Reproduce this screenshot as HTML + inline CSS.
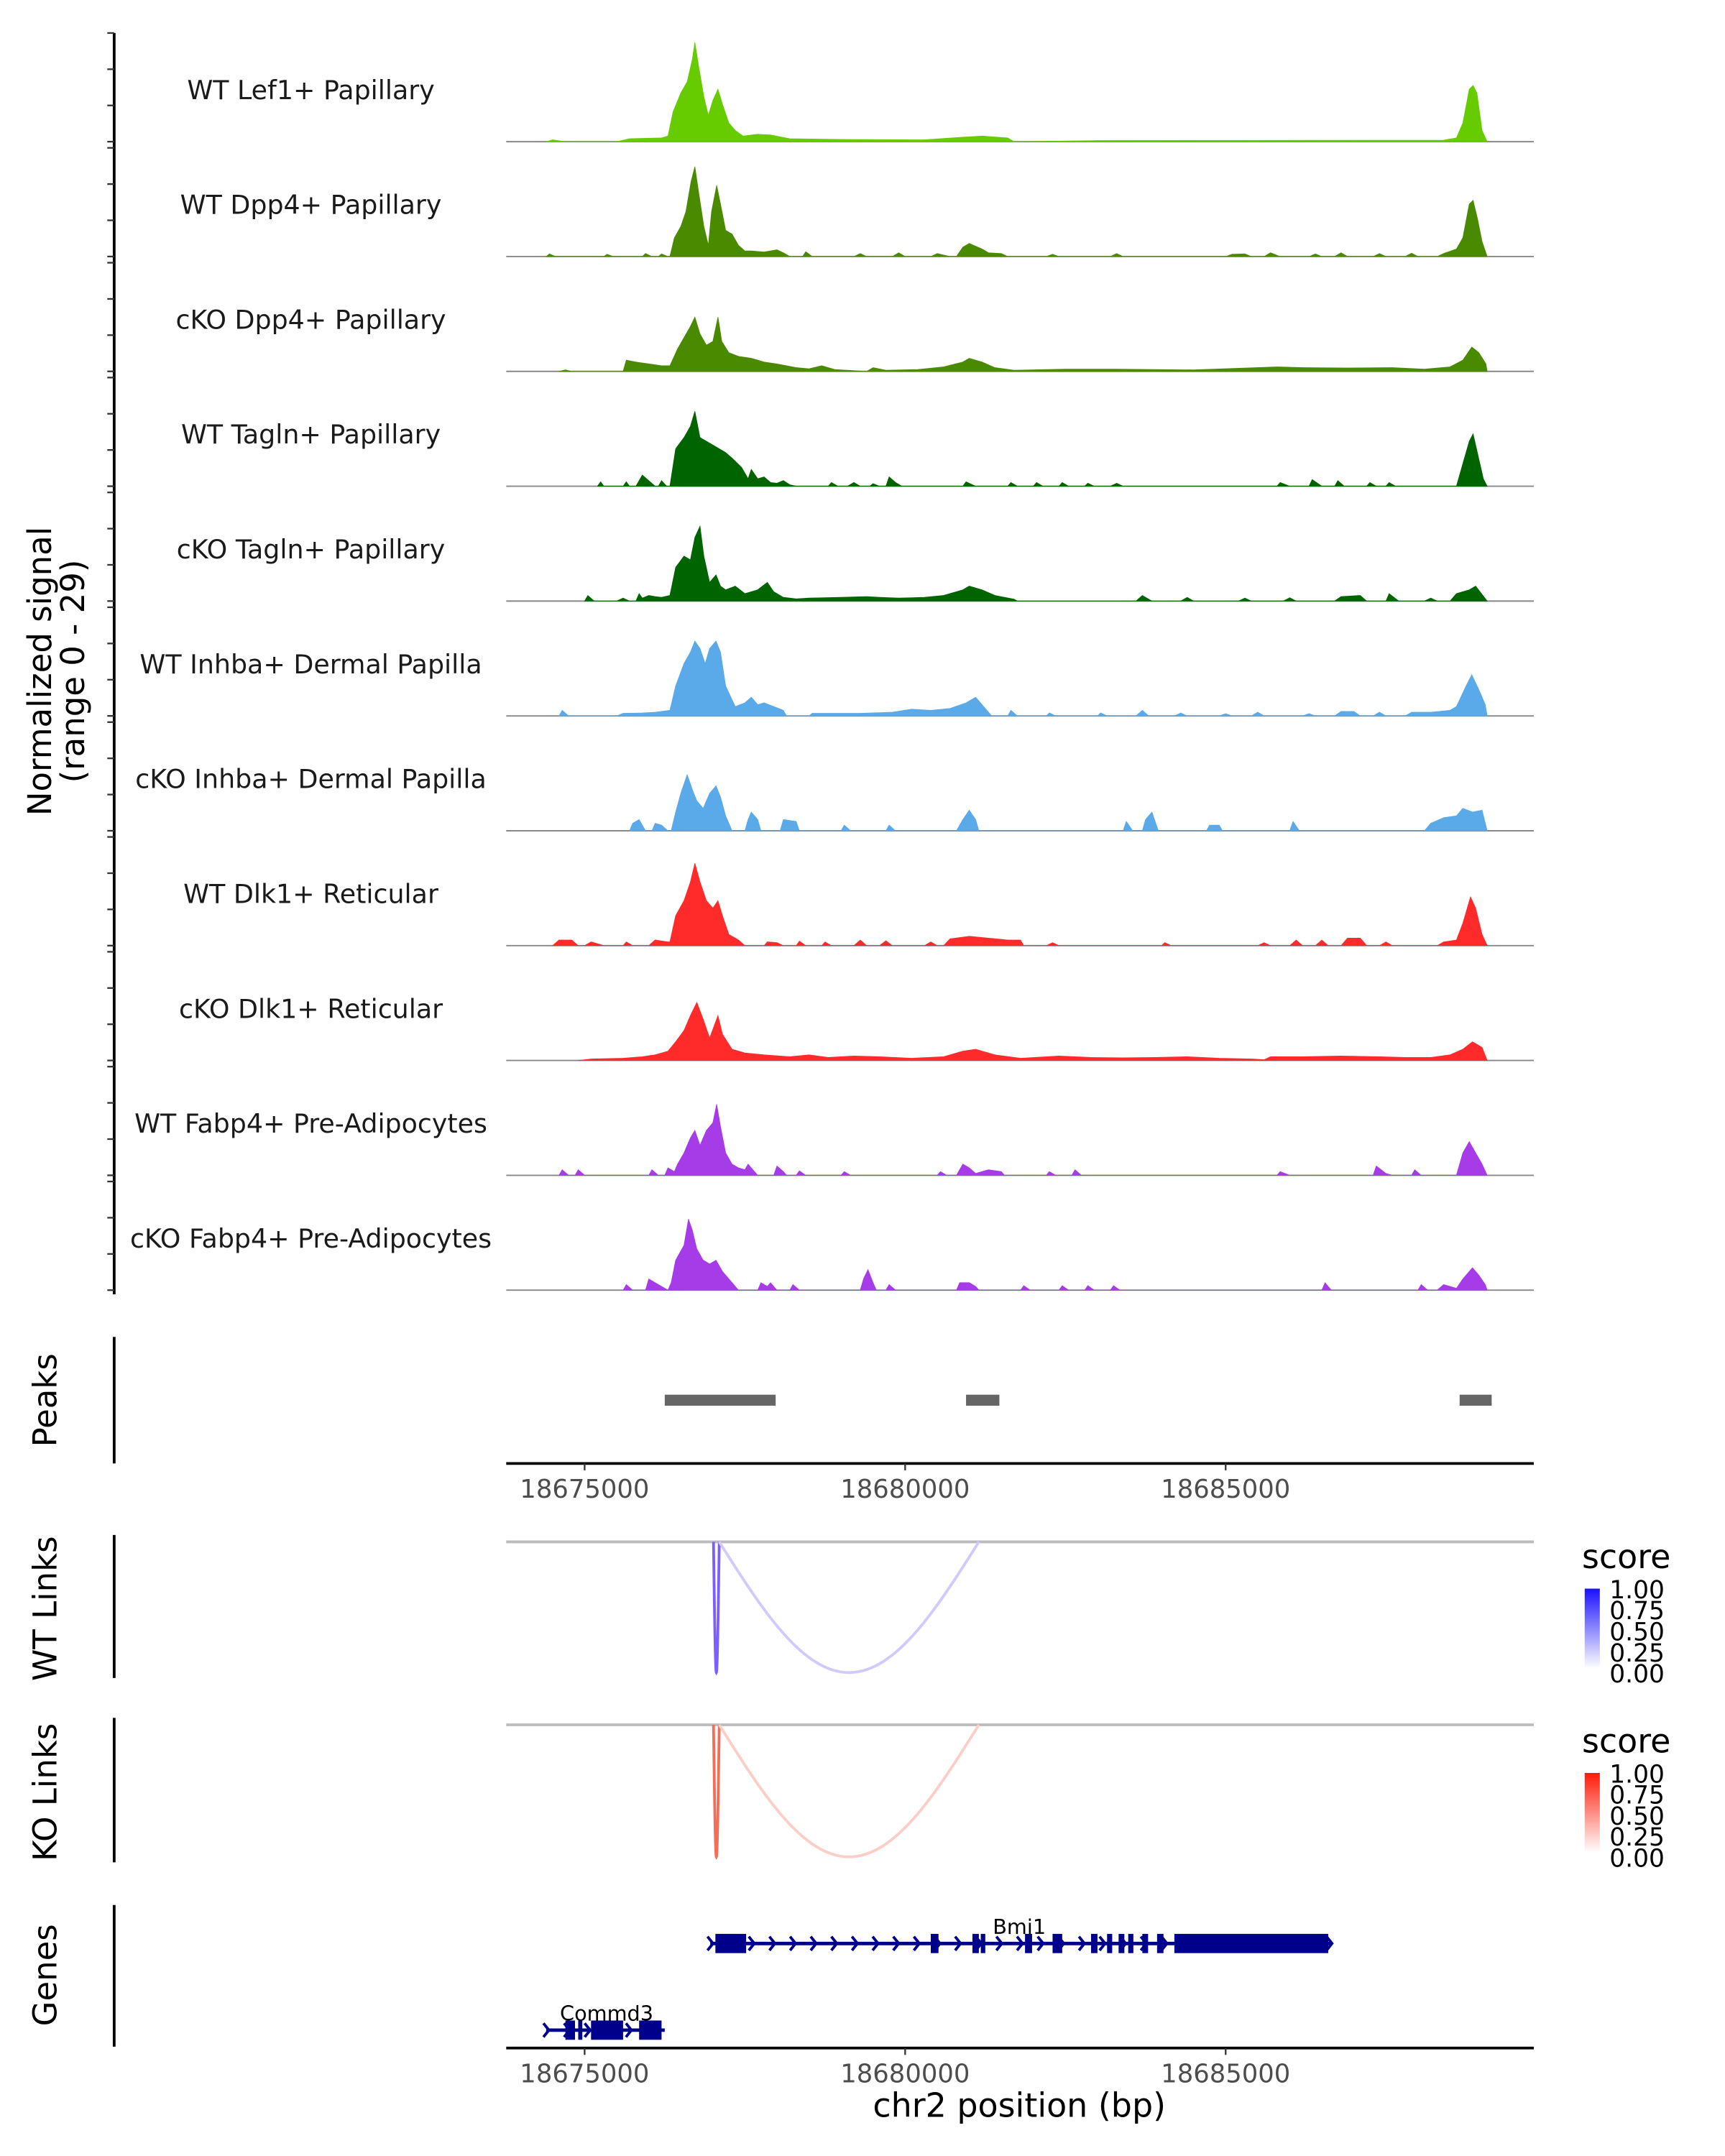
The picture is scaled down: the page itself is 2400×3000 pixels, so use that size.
<!DOCTYPE html>
<html><head><meta charset="utf-8"><style>
html,body{margin:0;padding:0;background:#fff}
svg{display:block}
text{font-family:"DejaVu Sans","Liberation Sans",sans-serif}
</style></head><body>
<svg id="chart" xmlns="http://www.w3.org/2000/svg" width="2400" height="3000" viewBox="0 0 1254 1567.5"></svg>
<script>
const trackNames=["WT Lef1+ Papillary","WT Dpp4+ Papillary","cKO Dpp4+ Papillary","WT Tagln+ Papillary","cKO Tagln+ Papillary","WT Inhba+ Dermal Papilla","cKO Inhba+ Dermal Papilla","WT Dlk1+ Reticular","cKO Dlk1+ Reticular","WT Fabp4+ Pre-Adipocytes","cKO Fabp4+ Pre-Adipocytes"];
const trackColors=["#66cc00","#4a8a00","#4a8a00","#006400","#006400","#5aa9e9","#5aa9e9","#ff2a2a","#ff2a2a","#a63be8","#a63be8"];
const yMax=29;
const xTicks=[18675000,18680000,18685000];
const sig0=[[4.4,0],[4.5,0.5],[4.7,0],[5.5,0],[5.7,0.8],[6.2,1],[6.3,1.5],[6.38,8],[6.5,13],[6.6,16],[6.68,22],[6.72,26.5],[6.78,20],[6.86,12],[6.93,7],[7.0,11],[7.08,14],[7.15,10],[7.25,5],[7.35,3],[7.47,1.5],[7.7,2],[7.9,1.8],[8.2,0.8],[9,0.6],[10.3,0.5],[10.9,1.2],[11.2,1.5],[11.6,1],[11.7,0],[13,0.3],[18.4,0.4],[18.6,1],[18.7,5],[18.8,14],[18.86,15],[18.92,13],[19.0,3],[19.08,0]];
const sig1=[[4.4,0],[4.45,0.7],[4.55,0],[5.3,0],[5.35,0.6],[5.45,0],[5.9,0],[5.95,0.8],[6.05,0],[6.15,0],[6.2,0.7],[6.3,0],[6.33,0],[6.4,5],[6.5,8],[6.58,12],[6.66,20],[6.72,24],[6.78,17],[6.86,8],[6.93,3],[6.98,12],[7.06,19],[7.12,14],[7.2,7],[7.3,6],[7.4,3],[7.5,1.5],[7.6,1.5],[7.8,1.2],[8.0,1.8],[8.1,1],[8.2,0],[8.4,0],[8.45,1.3],[8.55,0],[9.2,0],[9.3,0.8],[9.4,0],[9.8,0],[9.9,1],[10.0,0],[10.4,0],[10.5,0.8],[10.7,0],[10.8,0],[10.9,2.5],[11.0,3.5],[11.2,2],[11.3,1],[11.5,0.8],[11.6,0],[12.2,0],[12.3,0.6],[12.4,0],[13.2,0],[13.3,0.8],[13.4,0],[15.0,0],[15.1,0.6],[15.3,0.7],[15.4,0],[15.6,0],[15.7,1],[15.85,0],[16.3,0],[16.4,0.7],[16.5,0],[16.7,0],[16.8,1],[16.9,0],[17.3,0],[17.4,0.8],[17.5,0],[17.8,0],[17.9,0.9],[18.0,0],[18.3,0],[18.4,0.8],[18.6,2],[18.7,5],[18.8,14],[18.86,15],[18.93,10],[19.0,4],[19.08,0]];
const sig2=[[4.6,0],[4.7,0.4],[4.8,0],[5.6,0],[5.65,3],[5.8,2.5],[6.0,2],[6.2,1.5],[6.33,1.5],[6.45,6],[6.55,9],[6.65,12],[6.72,14.5],[6.8,10],[6.9,7],[7.0,8],[7.08,14.5],[7.14,8],[7.25,5],[7.4,4],[7.6,3.5],[7.8,2.5],[8.0,2],[8.3,1],[8.5,0.7],[8.7,1.5],[8.9,0.5],[9.4,0],[9.5,1],[9.7,0.3],[10.2,0.5],[10.6,1.2],[10.9,2.5],[11.0,3.5],[11.2,2.5],[11.4,1],[11.7,0.3],[12.5,0.6],[13.3,0.6],[14.5,0.4],[15.8,1.2],[16.2,1],[16.9,0.9],[17.6,1],[18.1,0.6],[18.5,1.2],[18.7,3],[18.84,6.5],[18.95,5],[19.06,2],[19.08,0]];
const sig3=[[5.2,0],[5.25,1.2],[5.3,0],[5.6,0],[5.65,1.2],[5.7,0],[5.8,0],[5.9,3],[6.0,1.5],[6.1,0],[6.15,0],[6.2,1.5],[6.28,0],[6.33,0],[6.42,10],[6.55,13],[6.65,16],[6.72,20],[6.8,13],[6.9,12],[7.0,11],[7.1,10],[7.2,9],[7.3,7.5],[7.45,5],[7.55,2],[7.6,4.5],[7.7,2],[7.8,2.5],[7.9,1],[8.0,0.8],[8.1,1.5],[8.2,0.4],[8.3,0],[8.8,0],[8.85,1],[8.95,0],[9.1,0],[9.2,1],[9.3,0],[9.45,0],[9.5,0.7],[9.6,0],[9.7,0],[9.75,2.5],[9.85,1],[9.95,0],[10.9,0],[10.95,1.2],[11.1,0],[11.6,0],[11.65,1],[11.75,0],[12.0,0],[12.05,1],[12.15,0],[12.4,0],[12.45,1],[12.55,0],[12.8,0],[12.85,0.8],[12.95,0],[13.2,0],[13.3,0.8],[13.4,0],[15.8,0],[15.85,1],[16.0,0],[16.3,0],[16.35,1.8],[16.5,0],[16.7,0],[16.75,1.5],[16.85,0],[17.2,0],[17.25,1],[17.35,0],[17.5,0],[17.55,1],[17.65,0],[18.6,0],[18.7,6],[18.8,12],[18.86,14],[18.94,8],[19.02,2],[19.08,0]];
const sig4=[[5.0,0],[5.05,1.5],[5.15,0],[5.5,0],[5.6,0.8],[5.7,0],[5.8,0],[5.85,2],[5.9,0.8],[6.0,1.5],[6.1,1.2],[6.2,1],[6.33,1.5],[6.42,9],[6.55,12],[6.65,11],[6.72,17],[6.8,20],[6.86,12],[6.95,5],[7.05,7],[7.12,4],[7.2,3],[7.35,4],[7.5,2],[7.7,3],[7.85,5],[7.95,2.5],[8.1,1],[8.3,0.6],[8.5,0.8],[9.0,1],[9.4,1.2],[9.6,1],[9.9,0.8],[10.3,1],[10.6,1.5],[10.9,3],[11.0,4],[11.2,3],[11.4,1.5],[11.7,0.5],[11.75,0],[13.6,0],[13.7,1.5],[13.85,0],[14.3,0],[14.4,1],[14.5,0],[15.2,0],[15.3,0.8],[15.4,0],[15.9,0],[16.0,0.9],[16.1,0],[16.7,0],[16.8,1.2],[17.1,1.5],[17.2,0],[17.5,0],[17.55,2],[17.7,0],[18.1,0],[18.2,0.8],[18.3,0],[18.5,0],[18.6,2],[18.8,3],[18.9,4],[19.08,0]];
const sig5=[[4.6,0],[4.65,1.5],[4.75,0],[5.5,0],[5.6,0.7],[5.9,0.8],[6.1,1],[6.33,1.5],[6.42,8],[6.55,14],[6.65,17],[6.72,20],[6.8,18],[6.88,14],[6.95,18],[7.05,20],[7.12,17],[7.2,8],[7.35,2.5],[7.5,3.5],[7.6,5],[7.7,3],[7.8,3.5],[7.95,2.5],[8.1,1.5],[8.15,0],[8.5,0],[8.55,0.7],[9.3,0.7],[9.8,1],[10.1,1.8],[10.4,1.5],[10.7,2],[10.95,3.5],[11.1,5],[11.25,2],[11.35,0],[11.6,0],[11.65,1.5],[11.75,0],[12.2,0],[12.25,0.8],[12.35,0],[13.0,0],[13.05,0.8],[13.15,0],[13.6,0],[13.7,1.5],[13.8,0],[14.2,0],[14.3,0.8],[14.4,0],[14.9,0],[15.0,0.6],[15.1,0],[15.4,0],[15.5,1],[15.6,0],[16.2,0],[16.3,0.6],[16.4,0],[16.7,0],[16.8,1.2],[17.0,1.2],[17.1,0],[17.3,0],[17.4,1],[17.5,0],[17.8,0],[17.9,1],[18.2,1],[18.5,1.5],[18.6,2.5],[18.75,8],[18.84,11],[18.95,7],[19.05,3],[19.08,0]];
const sig6=[[5.7,0],[5.75,2],[5.85,3],[5.95,0],[6.05,0],[6.1,2],[6.2,1.5],[6.3,0],[6.35,0],[6.42,5],[6.5,10],[6.6,15],[6.68,11],[6.75,8],[6.85,6],[6.95,10],[7.05,12],[7.12,9],[7.2,4],[7.3,0],[7.5,0],[7.55,3],[7.6,5],[7.7,3],[7.75,0],[8.05,0],[8.1,3],[8.3,2.5],[8.35,0],[9.0,0],[9.05,1.5],[9.15,0],[9.7,0],[9.75,1.5],[9.85,0],[10.8,0],[10.9,3],[11.0,5.5],[11.1,3],[11.15,0],[13.4,0],[13.45,2.5],[13.55,0],[13.7,0],[13.75,3],[13.85,5],[13.95,0],[14.7,0],[14.75,1.5],[14.9,1.5],[14.95,0],[16.0,0],[16.05,2.5],[16.15,0],[18.1,0],[18.2,2],[18.4,3.5],[18.6,4],[18.7,6],[18.85,5],[19.0,5.5],[19.08,0]];
const sig7=[[4.5,0],[4.6,1.5],[4.8,1.5],[4.9,0],[5.0,0],[5.1,1],[5.3,0],[5.6,0],[5.65,1],[5.75,0],[6.0,0],[6.1,1.5],[6.3,1],[6.33,1],[6.42,8],[6.55,12],[6.65,17],[6.72,22],[6.8,17],[6.9,12],[7.0,10],[7.08,12],[7.15,8],[7.25,3],[7.4,1.5],[7.5,0],[7.8,0],[7.85,1],[8.0,0.8],[8.1,0],[8.3,0],[8.35,1.2],[8.45,0],[8.7,0],[8.75,1],[8.85,0],[9.2,0],[9.3,1.5],[9.4,0],[9.6,0],[9.7,1.3],[9.8,0],[10.3,0],[10.4,1],[10.5,0],[10.6,0],[10.7,1.8],[11.0,2.5],[11.3,2],[11.6,1.5],[11.8,1.5],[11.85,0],[12.2,0],[12.3,0.8],[12.4,0],[14.0,0],[14.05,0.8],[14.15,0],[15.5,0],[15.6,0.8],[15.7,0],[16.0,0],[16.1,1.5],[16.2,0],[16.4,0],[16.5,1.5],[16.6,0],[16.8,0],[16.9,2],[17.1,2],[17.2,0],[17.4,0],[17.5,1],[17.6,0],[18.3,0],[18.4,1],[18.6,1.5],[18.7,6],[18.82,13],[18.9,10],[19.0,3],[19.08,0]];
const sig8=[[4.9,0],[5.1,0.4],[5.6,0.6],[5.9,1],[6.1,1.5],[6.3,2.5],[6.42,5],[6.55,8],[6.65,12],[6.75,15.5],[6.85,11],[6.95,6],[7.08,12],[7.15,7],[7.3,3],[7.5,2],[7.8,1.5],[8.2,1],[8.5,1.5],[8.8,0.8],[9.2,1.2],[9.6,1],[10.1,0.6],[10.6,1],[10.9,2.5],[11.1,3],[11.4,1.5],[11.8,0.6],[12.4,1.2],[12.9,0.8],[13.4,0.7],[13.9,0.8],[14.4,1],[14.9,0.6],[15.4,0.4],[15.6,0.2],[15.7,1],[16.2,1],[16.8,1.2],[17.4,1],[17.8,0.8],[18.2,0.8],[18.5,1.5],[18.7,3],[18.85,5],[19.0,3.5],[19.08,0]];
const sig9=[[4.6,0],[4.65,1.5],[4.75,0],[4.85,0],[4.9,1.5],[5.0,0],[6.0,0],[6.05,1.5],[6.15,0],[6.25,0],[6.3,2],[6.4,1],[6.45,3],[6.55,6],[6.65,10],[6.72,12],[6.8,8],[6.9,12],[7.0,14],[7.06,19],[7.12,13],[7.2,6],[7.3,3],[7.4,2],[7.5,1.5],[7.55,3],[7.65,1],[7.7,0],[7.95,0],[8.0,2.5],[8.1,1],[8.15,0],[8.3,0],[8.35,1.2],[8.45,0],[9.0,0],[9.05,1],[9.15,0],[10.5,0],[10.55,1],[10.65,0],[10.8,0],[10.9,3],[11.0,2],[11.1,0.5],[11.3,1.5],[11.5,1],[11.55,0],[12.2,0],[12.25,1],[12.35,0],[12.6,0],[12.65,1.5],[12.75,0],[15.8,0],[15.85,1],[16.0,0],[17.3,0],[17.35,2.5],[17.5,0.5],[17.6,0],[17.9,0],[17.95,1.5],[18.05,0],[18.6,0],[18.7,6],[18.8,9],[18.9,6],[19.0,3],[19.08,0]];
const sig10=[[5.6,0],[5.65,1.5],[5.75,0],[5.95,0],[6.0,3],[6.1,2],[6.2,1],[6.3,0],[6.35,2],[6.42,8],[6.55,12],[6.62,19],[6.68,16],[6.75,11],[6.85,8],[6.95,7],[7.05,8],[7.15,5],[7.3,2],[7.4,0],[7.7,0],[7.75,2],[7.85,1],[7.9,2],[8.0,0],[8.2,0],[8.25,1.5],[8.35,0],[9.3,0],[9.35,3],[9.42,5.5],[9.5,2],[9.55,0],[9.7,0],[9.75,1.5],[9.85,0],[10.8,0],[10.85,2],[11.0,2],[11.1,1],[11.15,0],[11.8,0],[11.85,1.2],[11.95,0],[12.4,0],[12.45,1.2],[12.55,0],[12.8,0],[12.85,1.2],[12.95,0],[13.2,0],[13.25,1.2],[13.35,0],[16.5,0],[16.55,2],[16.65,0],[18.0,0],[18.05,1.5],[18.15,0],[18.3,0],[18.4,1.5],[18.5,1],[18.6,0.5],[18.7,3],[18.85,6],[18.95,4],[19.05,1.5],[19.08,0]];
const signals=[sig0,sig1,sig2,sig3,sig4,sig5,sig6,sig7,sig8,sig9,sig10];
const peakStarts=[18676250,18680950,18688650];
const peakEnds=[18677980,18681470,18689150];
const wtLinkStarts=[18677010,18677100];
const wtLinkEnds=[18677100,18681150];
const wtLinkScores=[0.75,0.25];
const koLinkStarts=[18677010,18677100];
const koLinkEnds=[18677100,18681150];
const koLinkScores=[0.75,0.25];
const bmi1Exons=[[18677040,18677520],[18680400,18680520],[18681050,18681150],[18681180,18681250],[18681870,18681980],[18682300,18682450],[18682900,18683000],[18683150,18683230],[18683330,18683420],[18683480,18683560],[18683700,18683790],[18683930,18684030],[18684200,18686600]];
const commd3Exons=[[18674700,18674850],[18674900,18674950],[18675100,18675600],[18675850,18676200]];
const legendTicks=["1.00","0.75","0.50","0.25","0.00"];

const NS="http://www.w3.org/2000/svg";
const svg=document.getElementById('chart');
function mk(tag,attrs,parent){const e=document.createElementNS(NS,tag);for(const k in attrs)e.setAttribute(k,attrs[k]);(parent||svg).appendChild(e);return e;}
function xs(bp){return 425+(bp-18675000)*(233/5000);}
function xkb(kb){return xs(18670000+kb*1000);}
const trackH=79;
function base(i){return 103+i*83.5;}
function ys(i,v){return base(i)-v/yMax*trackH;}

let ax=mk('line',{x1:83,y1:24,x2:83,y2:941,stroke:'#000','stroke-width':2});


for(let i=0;i<11;i++){
  [0,yMax/3,2*yMax/3,yMax].forEach(v=>{
    let t=mk('line',{x1:78,x2:83,y1:ys(i,v),y2:ys(i,v),stroke:'#333','stroke-width':1.2});
    
    
  });
}
let yt=mk('text',{x:0,y:0,'font-size':23.5,'text-anchor':'middle',transform:'translate(42,488) rotate(-90)'});


let ts1=mk('tspan',{x:0,dy:-5},yt);ts1.textContent='Normalized signal';
let ts2=mk('tspan',{x:0,dy:24},yt);ts2.textContent='(range 0 - 29)';

for(let i=0;i<11;i++){
  const g=mk('g',{});
  
  
  const lab=mk('text',{x:226,y:base(i)-31,'font-size':19,'text-anchor':'middle',fill:'#1a1a1a'},g);
  lab.textContent=trackNames[i];
  
  
  const bl=mk('line',{x1:368,x2:1115,y1:base(i),y2:base(i),stroke:'#888','stroke-width':1},g);
  
  
  const s=signals[i];
  let d='M'+xkb(s[0][0])+','+base(i);
  s.forEach(p=>{d+=' L'+xkb(p[0]).toFixed(2)+','+ys(i,p[1]).toFixed(2);});
  d+=' L'+xkb(s[s.length-1][0])+','+base(i)+' Z';
  const a=mk('path',{d:d,fill:trackColors[i],stroke:trackColors[i],'stroke-width':0.4},g);
  
  
}

let pl=mk('line',{x1:83,y1:972,x2:83,y2:1064,stroke:'#000','stroke-width':2});


let pt=mk('text',{x:0,y:0,'font-size':23.5,'text-anchor':'middle',transform:'translate(41,1018) rotate(-90)'});
pt.textContent='Peaks';


for(let i=0;i<peakStarts.length;i++){
  const r=mk('rect',{x:xs(peakStarts[i]),y:1014,width:xs(peakEnds[i])-xs(peakStarts[i]),height:8,fill:'#666'});
  
  
}
function xAxis(y,name){
  const l=mk('line',{x1:368,x2:1115,y1:y,y2:y,stroke:'#000','stroke-width':2});
  
  
  xTicks.forEach(t=>{
    const tk=mk('line',{x1:xs(t),x2:xs(t),y1:y,y2:y+5,stroke:'#333','stroke-width':1.2});
    
    
    const tl=mk('text',{x:xs(t),y:y+25,'font-size':18.5,'text-anchor':'middle',fill:'#4d4d4d'});
    tl.textContent=t;
    
    
  });
}
xAxis(1064,'peaks-x-axis');

function linksPanel(top,bot,title,starts,ends,scores,c1,name){
  const l=mk('line',{x1:83,y1:top-5,x2:83,y2:bot+2,stroke:'#000','stroke-width':2});
  
  
  const t=mk('text',{x:0,y:0,'font-size':23.5,'text-anchor':'middle',transform:'translate(41,'+((top+bot)/2)+') rotate(-90)'});
  t.textContent=title;
  
  
  const gl=mk('line',{x1:368,x2:1115,y1:top,y2:top,stroke:'#bbb','stroke-width':2});
  
  
  for(let i=0;i<starts.length;i++){
    const x1=xs(starts[i]),x2=xs(ends[i]);
    let d='';
    for(let k=0;k<=60;k++){const tt=k/60;const x=x1+(x2-x1)*tt;const y=top+(bot-top-2)*Math.sin(Math.PI*tt);d+=(k?' L':'M')+x.toFixed(2)+','+y.toFixed(2);}
    const col=mix(c1,scores[i]);
    const p=mk('path',{d:d,fill:'none',stroke:col,'stroke-width':2});
    
    
  }
}
function mix(c,s){const r=Math.round(255+(c[0]-255)*s),g=Math.round(255+(c[1]-255)*s),b=Math.round(255+(c[2]-255)*s);return 'rgb('+r+','+g+','+b+')';}
linksPanel(1121,1218,'WT Links',wtLinkStarts,wtLinkEnds,wtLinkScores,[80,40,255],'wt-links');
linksPanel(1254,1352,'KO Links',koLinkStarts,koLinkEnds,koLinkScores,[240,60,30],'ko-links');

function legend(top,c1,id){
  const g=mk('g',{});
  
  
  const t=mk('text',{x:1150,y:top,'font-size':24},g);t.textContent='score';
  const defs=mk('defs',{},g);
  const lg=mk('linearGradient',{id:id+'g',x1:0,y1:0,x2:0,y2:1},defs);
  mk('stop',{offset:0,'stop-color':c1},lg);mk('stop',{offset:1,'stop-color':'#fff'},lg);
  mk('rect',{x:1152,y:top+15,width:11,height:58,fill:'url(#'+id+'g)'},g);
  legendTicks.forEach((s,k)=>{
    const tx=mk('text',{x:1170,y:top+22+k*15.3,'font-size':18},g);tx.textContent=s;
    
    
  });
}
legend(1140,'#1a10ff','wt-score-legend');
legend(1274,'#ff1a0a','ko-score-legend');

let gl=mk('line',{x1:83,y1:1385,x2:83,y2:1488,stroke:'#000','stroke-width':2});


let gt=mk('text',{x:0,y:0,'font-size':23.5,'text-anchor':'middle',transform:'translate(41,1436) rotate(-90)'});
gt.textContent='Genes';


function gene(name,start,end,exons,y,lx){
  const g=mk('g',{});
  
  
  mk('line',{x1:xs(start),x2:xs(end),y1:y,y2:y,stroke:'#00008b','stroke-width':2.5},g);
  for(let x=xs(start);x<xs(end);x+=15){
    mk('path',{d:'M'+(x-2)+','+(y-5)+' L'+(x+2)+','+y+' L'+(x-2)+','+(y+5),fill:'none',stroke:'#00008b','stroke-width':2},g);
  }
  exons.forEach(e=>{mk('rect',{x:xs(e[0]),y:y-7,width:Math.max(3,xs(e[1])-xs(e[0])),height:14,fill:'#00008b'},g);});
  const t=mk('text',{x:lx,y:y-7,'font-size':15,'text-anchor':'middle'},g);t.textContent=name;
}
gene('Bmi1',18676960,18686640,bmi1Exons,1413,741);
gene('Commd3',18674400,18676250,commd3Exons,1476,441);
xAxis(1489,'x-axis');
let xt=mk('text',{x:741,y:1539,'font-size':24,'text-anchor':'middle'});
xt.textContent='chr2 position (bp)';


</script>
</body></html>
